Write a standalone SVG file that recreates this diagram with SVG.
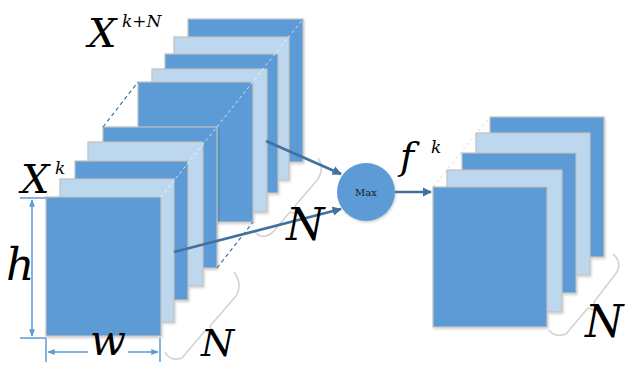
<svg xmlns="http://www.w3.org/2000/svg" width="626" height="367" viewBox="0 0 626 367">
<defs>
<style>
.d{fill:#5b9bd5;stroke:#c2c2c2;stroke-width:1.2}
.l{fill:#bdd7ee;stroke:#c2c2c2;stroke-width:1.2}
.persp{fill:none;stroke:#ffffff;stroke-width:1;stroke-dasharray:3 3;opacity:0.7}
.pdash{fill:none;stroke:#41719c;stroke-width:1.2;stroke-dasharray:4 3}
.brace{fill:none;stroke:#d3d3d3;stroke-width:1.6;stroke-linejoin:round}
.conn{fill:none;stroke:#41719c;stroke-width:2.6}
.dim{fill:none;stroke:#5b9bd5;stroke-width:1.5}
</style>
<marker id="ah" viewBox="0 0 10 10" refX="9" refY="5" markerWidth="3.6" markerHeight="3.6" orient="auto" markerUnits="strokeWidth">
<path d="M0,0 L10,5 L0,10 z" fill="#41719c"/>
</marker>
<marker id="dh" viewBox="0 0 10 10" refX="9" refY="5" markerWidth="5" markerHeight="5" orient="auto-start-reverse" markerUnits="strokeWidth">
<path d="M0,1 L10,5 L0,9 z" fill="#5b9bd5"/>
</marker>
<filter id="sh" x="-10%" y="-10%" width="130%" height="130%">
<feDropShadow dx="1" dy="1.5" stdDeviation="1.2" flood-color="#000" flood-opacity="0.18"/>
</filter>
</defs>
<rect width="626" height="367" fill="#fff"/>

<g id="braceB">
<path class="brace" d="M255,232 Q262,240 272,233 L290,212 L297,214 L295,206 L318,179 Q325,168 318,158"/>
</g>
<g id="braceA">
<path class="brace" d="M165,352 Q170,362 182,358 L205,331 L213,334 L210,326 L236,296 Q243,285 234,272"/>
</g>
<g id="braceC">
<path class="brace" d="M549,330 Q555,338 566,334 L588,308 L596,311 L594,302 L617,272 Q622,262 613,254"/>
</g>

<g id="stackB" filter="url(#sh)">
<rect class="d" x="188" y="19" width="115" height="143"/>
<rect class="l" x="174" y="37" width="115" height="143"/>
<rect class="d" x="165" y="54" width="113" height="139"/>
<rect class="l" x="152" y="69" width="115" height="143"/>
<rect class="d" x="138" y="82" width="115" height="140"/>
</g>

<g id="stackA" filter="url(#sh)">
<rect class="d" x="103" y="127" width="114" height="141"/>
<rect class="l" x="88" y="142" width="115" height="144"/>
<rect class="d" x="75" y="161" width="113" height="139"/>
<rect class="l" x="60" y="179" width="114" height="143"/>
<rect class="d" x="46" y="197" width="115" height="139"/>
</g>

<g id="perspective">
<path class="persp" d="M161,197 L303,19"/>
<path class="pdash" d="M103,127 L138,82"/>
<path class="pdash" d="M217,268 L253,222"/>
<path class="persp" d="M547,187 L604,117"/>
<path d="M433,187 L490,117" fill="none" stroke="#dcdcdc" stroke-width="1" stroke-dasharray="3 3"/>
</g>

<g id="stackC" filter="url(#sh)">
<rect class="d" x="490" y="117" width="114" height="140"/>
<rect class="l" x="476" y="133" width="114" height="142"/>
<rect class="d" x="462" y="153" width="114" height="140"/>
<rect class="l" x="447" y="170" width="115" height="142"/>
<rect class="d" x="433" y="187" width="114" height="140"/>
</g>

<g id="max">
<circle cx="366" cy="192" r="29" fill="#5b9bd5" filter="url(#sh)"/>
<text x="366" y="196" font-family="DejaVu Serif, serif" font-size="10" text-anchor="middle" fill="#1a1a1a">Max</text>
</g>

<g id="connectors">
<line class="conn" x1="266" y1="141" x2="341" y2="174" marker-end="url(#ah)"/>
<line class="conn" x1="174" y1="252" x2="341" y2="209" marker-end="url(#ah)"/>
<line class="conn" x1="395" y1="192" x2="431" y2="192" marker-end="url(#ah)"/>
</g>

<g id="dims">
<line class="dim" x1="20" y1="198" x2="46" y2="198"/>
<line class="dim" x1="20" y1="338" x2="46" y2="338"/>
<line class="dim" x1="32" y1="200" x2="32" y2="336" marker-start="url(#dh)" marker-end="url(#dh)"/>
<line class="dim" x1="46" y1="338" x2="46" y2="362"/>
<line class="dim" x1="160" y1="338" x2="160" y2="362"/>
<line class="dim" x1="48" y1="352" x2="158" y2="352" marker-start="url(#dh)" marker-end="url(#dh)"/>
<rect x="88" y="340" width="40" height="27" fill="#fff"/>
</g>

<g id="labels" font-family="DejaVu Serif, serif" font-style="italic" fill="#000">
<text x="88" y="47" font-size="40">X</text>
<text x="122" y="27" font-size="17">k+N</text>
<text x="21" y="193" font-size="40">X</text>
<text x="55" y="174" font-size="17">k</text>
<text x="6" y="280" font-size="44">h</text>
<text x="90" y="355" font-size="42">w</text>
<text x="201" y="356" font-size="38">N</text>
<text x="286" y="240" font-size="44">N</text>
<text x="400" y="169" font-size="38">f</text>
<text x="431" y="153" font-size="17">k</text>
<text x="585" y="337" font-size="44">N</text>
</g>
</svg>
